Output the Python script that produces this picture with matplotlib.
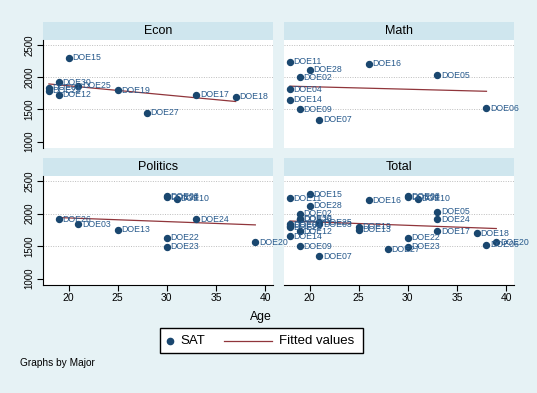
import numpy as np
import matplotlib.pyplot as plt
from matplotlib.patches import Rectangle
from matplotlib.lines import Line2D

plt.rcParams['font.family'] = ['Liberation Sans', 'DejaVu Sans']

# data
names = ["DOE01", "DOE29", "DOE30", "DOE12", "DOE15", "DOE25", "DOE19", "DOE27", "DOE17", "DOE18",
         "DOE11", "DOE04", "DOE14", "DOE02", "DOE09", "DOE28", "DOE07", "DOE16", "DOE05", "DOE06",
         "DOE26", "DOE03", "DOE13", "DOE08", "DOE21", "DOE22", "DOE23", "DOE10", "DOE24", "DOE20"]
majors = ["Econ"] * 10 + ["Math"] * 10 + ["Politics"] * 10
ages = [18, 18, 19, 19, 20, 21, 25, 28, 33, 37,
        18, 18, 18, 19, 19, 20, 21, 26, 33, 38,
        19, 21, 25, 30, 30, 30, 30, 31, 33, 39]
sat = [1840, 1790, 1920, 1730, 2300, 1870, 1800, 1450, 1730, 1700,
       2240, 1810, 1650, 2000, 1500, 2120, 1340, 2210, 2030, 1520,
       1910, 1840, 1750, 2270, 2250, 1630, 1490, 2230, 1910, 1560]

panels = ["Econ", "Math", "Politics", "Total"]
xticks = [20, 25, 30, 35, 40]
yticks = [1000, 1500, 2000, 2500]

navy = '#1a476f'
label_col = '#285a8c'
maroon = '#90353b'
bg = '#e6f2f5'
strip_col = '#cfe6ee'

W, H = 537, 393
fig = plt.figure(figsize=(W / 100, H / 100), dpi=100, facecolor=bg)


def frac(l, t, r, b):
    return [l / W, 1 - b / H, (r - l) / W, (b - t) / H]


# pixel boxes: left, top, right, bottom
boxes = {"Econ": (43, 40, 273, 148), "Math": (284, 40, 514, 148),
         "Politics": (43, 176, 273, 285), "Total": (284, 176, 514, 285)}

ages = np.array(ages)
sat = np.array(sat)
majors = np.array(majors)

for i, p in enumerate(panels):
    l, t, r, b = boxes[p]
    left_col = i % 2 == 0
    bottom_row = i >= 2

    # strip with the panel name
    sax = fig.add_axes(frac(l, t - 18, r, t))
    sax.set_facecolor(strip_col)
    sax.set_xticks([])
    sax.set_yticks([])
    for s in sax.spines.values():
        s.set_visible(False)
    sax.text(0.5, 0.5, p, ha='center', va='center', fontsize=9, transform=sax.transAxes)

    ax = fig.add_axes(frac(l, t, r, b))
    # left panels on top so their labels can spill into the right panels
    ax.set_zorder(5 if left_col else 2)
    ax.set_facecolor('white')
    if p == "Total":
        m = np.ones(len(ages), dtype=bool)
    else:
        m = majors == p
    x = ages[m]
    y = sat[m]
    nm = [n for n, k in zip(names, m) if k]

    for v in yticks[1:]:
        ax.axhline(v, color='#bdbdbd', lw=0.7, ls=(0, (1, 1.5)), zorder=0)

    ax.plot(x, y, 'o', color=navy, ms=4.3, zorder=3)
    for xi, yi, n in zip(x, y, nm):
        ax.annotate(n, (xi, yi), xytext=(2.5, 0), textcoords='offset points',
                    ha='left', va='center', fontsize=6.3, color=label_col,
                    annotation_clip=False, zorder=4)

    slope, icpt = np.polyfit(x, y, 1)
    xs = np.unique(x)
    ax.plot(xs, icpt + slope * xs, color=maroon, lw=0.9, zorder=2)

    ax.set_xlim(17.4, 40.8)
    ax.set_ylim(900, 2580)

    for s in ax.spines.values():
        s.set_visible(False)
    if left_col:
        ax.spines['left'].set_visible(True)
        ax.set_yticks(yticks)
        ax.tick_params(axis='y', labelsize=7, length=4, pad=2, labelrotation=90)
        for lab in ax.get_yticklabels():
            lab.set_va('center')
    else:
        ax.set_yticks([])
    if bottom_row:
        ax.spines['bottom'].set_visible(True)
        ax.set_xticks(xticks)
        ax.tick_params(axis='x', labelsize=7.5, length=4, pad=2)
    else:
        ax.set_xticks([])

fig.text(261 / W, 1 - 317 / H, "Age", ha='center', va='center', fontsize=8.8)

# legend box
fig.add_artist(Rectangle((160 / W, 1 - 353 / H), 203 / W, 25 / H, transform=fig.transFigure,
                         facecolor='white', edgecolor='black', lw=1))
fig.add_artist(Line2D([170 / W], [1 - 341 / H], marker='o', color=navy, ms=4.5,
                      transform=fig.transFigure))
fig.text(180 / W, 1 - 341 / H, "SAT", ha='left', va='center', fontsize=9.5)
fig.add_artist(Line2D([224 / W, 272 / W], [1 - 341 / H, 1 - 341 / H], color=maroon, lw=0.9,
                      transform=fig.transFigure))
fig.text(279 / W, 1 - 341 / H, "Fitted values", ha='left', va='center', fontsize=9.5)

fig.text(20 / W, 1 - 363 / H, "Graphs by Major", ha='left', va='center', fontsize=7.3)

fig.savefig("out.png", dpi=100, facecolor=bg)
